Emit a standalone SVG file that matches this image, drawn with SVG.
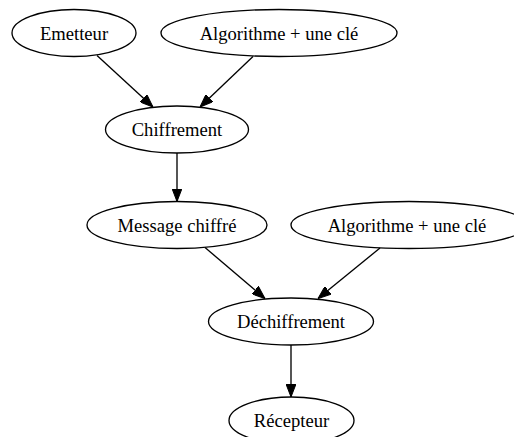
<svg xmlns="http://www.w3.org/2000/svg" width="514" height="437" viewBox="0 0 514 437">
<style>
.node ellipse{fill:none;stroke:#000;stroke-width:1.33}
.node text{font-family:"Liberation Serif","Times New Roman",serif;font-size:18.6px;fill:#000;text-anchor:middle}
.edge{stroke:#000;stroke-width:1.33;fill:none;marker-end:url(#arr)}
</style>
<defs>
<marker id="arr" viewBox="0 0 13 10" refX="13" refY="5" markerWidth="13" markerHeight="10" markerUnits="userSpaceOnUse" orient="auto">
<path d="M0,0 L13,5 L0,10 z" fill="#000" stroke="#000" stroke-width="1"/>
</marker>
</defs>
<rect width="514" height="437" fill="#fff"/>
<g id="connectors">
<line class="edge" x1="97" y1="55.5" x2="153" y2="107"/>
<line class="edge" x1="253" y1="56.5" x2="200" y2="107"/>
<line class="edge" x1="177" y1="153" x2="177" y2="201.5"/>
<line class="edge" x1="205" y1="247.5" x2="265" y2="298.5"/>
<line class="edge" x1="380" y1="248" x2="318" y2="298.5"/>
<line class="edge" x1="291" y1="345" x2="291" y2="397"/>
</g>
<g id="emetteur" class="node"><ellipse cx="74" cy="33" rx="62" ry="23.5"/><text x="74" y="39.5">Emetteur</text></g>
<g id="algo1" class="node"><ellipse cx="279" cy="33" rx="118" ry="23.5"/><text x="279" y="39.5">Algorithme + une clé</text></g>
<g id="chiffrement" class="node"><ellipse cx="177" cy="129.5" rx="71.5" ry="23.5"/><text x="177" y="136">Chiffrement</text></g>
<g id="message" class="node"><ellipse cx="177" cy="225" rx="90" ry="23.5"/><text x="177" y="231.5">Message chiffré</text></g>
<g id="algo2" class="node"><ellipse cx="409" cy="225" rx="118" ry="23.5"/><text x="407" y="231.5">Algorithme + une clé</text></g>
<g id="dechiffrement" class="node"><ellipse cx="291" cy="321.5" rx="82.5" ry="23.5"/><text x="291" y="328">Déchiffrement</text></g>
<g id="recepteur" class="node"><ellipse cx="291.5" cy="420.5" rx="62.5" ry="23.5"/><text x="291.5" y="427">Récepteur</text></g>
</svg>
